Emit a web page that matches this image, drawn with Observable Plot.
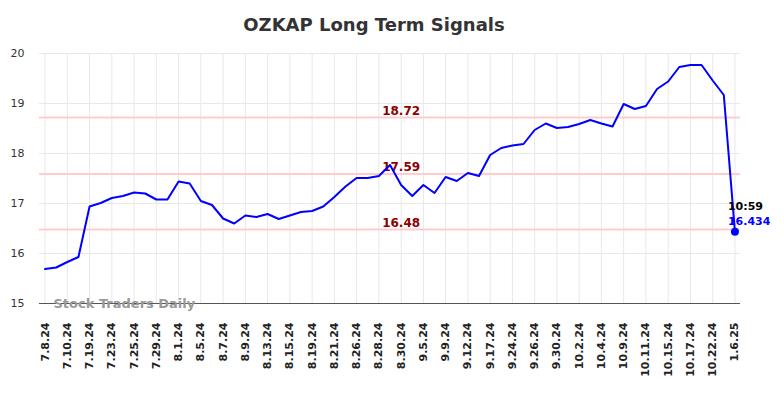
<!DOCTYPE html>
<html>
<head>
<meta charset="utf-8">
<script src="https://cdn.jsdelivr.net/npm/d3@7"></script>
<script src="https://cdn.jsdelivr.net/npm/@observablehq/plot@0.6"></script>
<style>
  body { margin: 0; background: #fff; font-family: "DejaVu Sans", sans-serif; }
  #wrap { position: relative; width: 784px; height: 398px; }
  #title { position: absolute; left: 0; top: 14px; width: 748px; text-align: center;
           font: bold 18px "DejaVu Sans", sans-serif; color: #333; z-index: 1; }
</style>
</head>
<body>
<div id="wrap"><div id="title">OZKAP Long Term Signals</div></div>
<script>
const dates = ["7.8.24","7.9.24","7.10.24","7.11.24","7.19.24","7.22.24","7.23.24","7.24.24","7.25.24","7.26.24",
  "7.29.24","7.30.24","8.1.24","8.2.24","8.5.24","8.6.24","8.7.24","8.8.24","8.9.24","8.12.24",
  "8.13.24","8.14.24","8.15.24","8.16.24","8.19.24","8.20.24","8.21.24","8.23.24","8.26.24","8.27.24",
  "8.28.24","8.29.24","8.30.24","9.4.24","9.5.24","9.6.24","9.9.24","9.10.24","9.12.24","9.13.24",
  "9.17.24","9.23.24","9.24.24","9.25.24","9.26.24","9.27.24","9.30.24","10.1.24","10.2.24","10.3.24",
  "10.4.24","10.8.24","10.9.24","10.10.24","10.11.24","10.14.24","10.15.24","10.16.24","10.17.24","10.18.24",
  "10.22.24","10.23.24","1.6.25"];
const values = [15.69,15.72,15.83,15.93,16.94,17.01,17.11,17.15,17.22,17.20,
  17.08,17.08,17.44,17.40,17.05,16.97,16.70,16.60,16.76,16.73,
  16.79,16.69,16.76,16.83,16.85,16.94,17.13,17.34,17.51,17.51,
  17.55,17.77,17.37,17.15,17.37,17.21,17.53,17.45,17.61,17.55,
  17.97,18.11,18.16,18.19,18.47,18.60,18.51,18.53,18.59,18.67,
  18.60,18.54,18.99,18.89,18.95,19.29,19.44,19.73,19.77,19.77,
  19.46,19.17,16.434];
const tickLabels = ["7.8.24","7.10.24","7.19.24","7.23.24","7.25.24","7.29.24","8.1.24","8.5.24","8.7.24","8.9.24",
  "8.13.24","8.15.24","8.19.24","8.21.24","8.26.24","8.28.24","8.30.24","9.5.24","9.9.24","9.12.24",
  "9.17.24","9.24.24","9.26.24","9.30.24","10.2.24","10.4.24","10.9.24","10.11.24","10.15.24","10.17.24",
  "10.22.24","1.6.25"];
const yTicks = [15,16,17,18,19,20];
const levels = [18.72, 17.59, 16.48];
const levelLabelAt = "8.30.24";
const lastTime = "10:59";

const data = dates.map((d, i) => ({date: d, value: values[i]}));
const last = data[data.length - 1];

const chart = Plot.plot({
  width: 784,
  height: 398,
  marginTop: 53,
  marginBottom: 95,
  marginLeft: 39,
  marginRight: 44,
  style: {fontFamily: "DejaVu Sans, sans-serif", background: "white"},
  x: {type: "point", domain: dates, padding: 0.5, round: false},
  y: {domain: [15, 20]},
  marks: [
    Plot.gridY(yTicks, {stroke: "#e8e8e8", strokeOpacity: 1, strokeWidth: 1}),
    Plot.gridX(tickLabels, {stroke: "#e8e8e8", strokeOpacity: 1, strokeWidth: 1}),
    Plot.axisY(yTicks, {tickSize: 0, tickPadding: 15, fontSize: 11, fill: "#333", label: null, tickFormat: d => String(d)}),
    Plot.axisX(tickLabels, {tickSize: 0, tickPadding: 19, tickRotate: -90, fontSize: 11, fontWeight: "bold", fill: "#222", label: null}),
    Plot.ruleY(levels, {stroke: "#ffcccc", strokeWidth: 2}),
    Plot.ruleY([15], {stroke: "#555", strokeWidth: 1.2}),
    Plot.text(levels, {x: () => levelLabelAt, y: d => d, text: d => d.toFixed(2), fill: "#8b0000",
      fontSize: 12, fontWeight: "bold", lineAnchor: "bottom", dy: -3}),
    Plot.text(["Stock Traders Daily"], {frameAnchor: "bottom-left", textAnchor: "start", lineAnchor: "middle",
      dx: 14, dy: 0, fill: "#999", fontSize: 13, fontWeight: "bold"}),
    Plot.line(data, {x: "date", y: "value", stroke: "#0000ff", strokeWidth: 2}),
    Plot.dot([last], {x: "date", y: "value", r: 4, fill: "#0000ff"}),
    Plot.text([last], {x: "date", y: "value", text: () => lastTime, textAnchor: "start", dx: -7, dy: -25,
      fill: "#000", fontSize: 11, fontWeight: "bold"}),
    Plot.text([last], {x: "date", y: "value", text: d => d.value.toFixed(3), textAnchor: "start", dx: -7, dy: -10,
      fill: "#0000ff", fontSize: 11, fontWeight: "bold"})
  ]
});
document.getElementById("wrap").appendChild(chart);
</script>
</body>
</html>
